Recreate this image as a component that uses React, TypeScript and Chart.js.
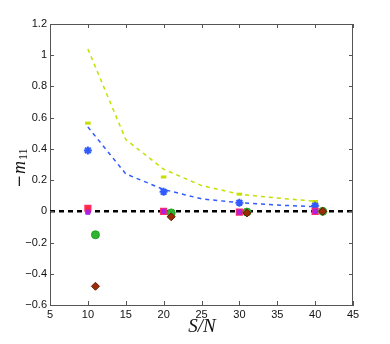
import React, { useEffect, useRef } from "react";
import { Chart, registerables } from "chart.js";

Chart.register(...registerables);

const lineX = [10, 15, 20, 25, 30, 35, 40];
const upperLine = [1.04, 0.46, 0.27, 0.165, 0.11, 0.085, 0.065];
const blueLine = [0.54, 0.24, 0.14, 0.08, 0.055, 0.04, 0.03];

const markX = [10, 20, 30, 40];
const markXShift = [11, 21, 31, 41];
const yellowMarks = [0.565, 0.22, 0.11, 0.063];
const blueMarks = [0.39, 0.125, 0.055, 0.035];
const redMarks = [0.02, 0.0, -0.005, 0.0];
const magentaMarks = [-0.005, 0.0, -0.005, 0.0];
const greenMarks = [-0.15, -0.01, -0.005, 0.0];
const diamondMarks = [-0.48, -0.035, -0.01, 0.0];

const zeroX = [5, 45];
const zeroY = [0, 0];

const xTicks = [5, 10, 15, 20, 25, 30, 35, 40, 45];
const yTicks = [-0.6, -0.4, -0.2, 0, 0.2, 0.4, 0.6, 0.8, 1, 1.2];

const pts = (xs: number[], ys: number[]) => xs.map((x, i) => ({ x, y: ys[i] }));

const boxPlugin = {
  id: "boxTicks",
  afterDraw(chart: any) {
    const { ctx, chartArea: a, scales } = chart;
    ctx.save();
    ctx.strokeStyle = "#555";
    ctx.lineWidth = 1;
    ctx.beginPath();
    ctx.moveTo(a.left, a.top + 0.5);
    ctx.lineTo(a.right, a.top + 0.5);
    ctx.moveTo(a.right - 0.5, a.top);
    ctx.lineTo(a.right - 0.5, a.bottom);
    const tl = 4;
    xTicks.forEach((v) => {
      const px = Math.round(scales.x.getPixelForValue(v)) + 0.5;
      ctx.moveTo(px, a.bottom);
      ctx.lineTo(px, a.bottom - tl);
      ctx.moveTo(px, a.top);
      ctx.lineTo(px, a.top + tl);
    });
    yTicks.forEach((v) => {
      const py = Math.round(scales.y.getPixelForValue(v)) + 0.5;
      ctx.moveTo(a.left, py);
      ctx.lineTo(a.left + tl, py);
      ctx.moveTo(a.right, py);
      ctx.lineTo(a.right - tl, py);
    });
    ctx.stroke();

    // y label: −m11
    ctx.fillStyle = "#111";
    ctx.translate(20, 168);
    ctx.rotate(-Math.PI / 2);
    ctx.textBaseline = "middle";
    ctx.textAlign = "left";
    const f1 = "15px 'DejaVu Sans'";
    const f2 = "italic 18px 'Liberation Serif'";
    const f3 = "12px 'Liberation Serif'";
    ctx.font = f1;
    const w1 = ctx.measureText("\u2212").width;
    ctx.font = f2;
    const w2 = ctx.measureText("m").width;
    ctx.font = f3;
    const w3 = ctx.measureText("11").width;
    let x0 = -(w1 + w2 + w3 + 2) / 2;
    ctx.font = f1;
    ctx.fillText("\u2212", x0, 0);
    x0 += w1 + 1;
    ctx.font = f2;
    ctx.fillText("m", x0, 0);
    x0 += w2 + 1;
    ctx.font = f3;
    ctx.fillText("11", x0, 4);
    ctx.restore();

    // x label
    ctx.save();
    ctx.fillStyle = "#111";
    ctx.font = "italic 19px 'Liberation Serif'";
    ctx.textAlign = "center";
    ctx.textBaseline = "middle";
    ctx.fillText("S/N", 202, 327);
    ctx.restore();
  },
};

export default function App() {
  const ref = useRef<HTMLCanvasElement | null>(null);
  useEffect(() => {
    document.body.style.margin = "0";
    const yellow = "#c4e000";
    const blue = "#2f5bff";
    const chart = new Chart(ref.current as HTMLCanvasElement, {
      type: "scatter",
      data: {
        datasets: [
          {
            label: "diamond",
            data: pts(markXShift, diamondMarks),
            pointStyle: "rectRot",
            pointRadius: 4,
            backgroundColor: "#9a2a08",
            borderColor: "#6a1a00",
            borderWidth: 1,
          },
          {
            label: "green",
            data: pts(markXShift, greenMarks),
            pointStyle: "circle",
            pointRadius: 4,
            backgroundColor: "#2fb52f",
            borderColor: "#20a020",
            borderWidth: 1,
          },
          {
            label: "magenta",
            data: pts(markX, magentaMarks),
            pointStyle: "rect",
            pointRadius: 3,
            backgroundColor: "#b020e0",
            borderColor: "#b020e0",
            borderWidth: 1,
          },
          {
            label: "red",
            data: pts(markX, redMarks),
            pointStyle: "rect",
            pointRadius: 4,
            backgroundColor: "#ff2a2a",
            borderColor: "#ff2a6a",
            borderWidth: 1.5,
          },
          {
            label: "blueStar",
            data: pts(markX, blueMarks),
            pointStyle: "star",
            pointRadius: 4,
            backgroundColor: blue,
            borderColor: blue,
            borderWidth: 2,
          },
          {
            label: "yellowMark",
            data: pts(markX, yellowMarks),
            pointStyle: "line",
            pointRadius: 2.8,
            backgroundColor: yellow,
            borderColor: yellow,
            borderWidth: 3,
          },
          {
            label: "blueLine",
            data: pts(lineX, blueLine),
            showLine: true,
            pointRadius: 0,
            borderColor: blue,
            borderWidth: 1.5,
            borderDash: [4, 4],
            fill: false,
          },
          {
            label: "upperLine",
            data: pts(lineX, upperLine),
            showLine: true,
            pointRadius: 0,
            borderColor: yellow,
            borderWidth: 1.5,
            borderDash: [4, 4],
            fill: false,
          },
          {
            label: "zero",
            data: pts(zeroX, zeroY),
            showLine: true,
            pointRadius: 0,
            borderColor: "#000",
            borderWidth: 2.5,
            borderDash: [5, 4],
            fill: false,
          },
        ],
      },
      options: {
        responsive: false,
        animation: false,
        layout: { padding: { top: 24, right: 37, left: 0, bottom: 0 } },
        plugins: { legend: { display: false }, tooltip: { enabled: false } },
        scales: {
          x: {
            type: "linear",
            min: 5,
            max: 45,
            afterFit: (s: any) => {
              s.height = 39;
            },
            afterBuildTicks: (s: any) => {
              s.ticks = xTicks.map((v) => ({ value: v }));
            },
            grid: { display: false, drawTicks: false },
            border: { display: true, color: "#555", width: 1 },
            ticks: {
              color: "#111",
              font: { family: "'Liberation Sans'", size: 11 },
              padding: 3,
              maxRotation: 0,
              callback: (v: any) => String(v),
            },
          },
          y: {
            type: "linear",
            min: -0.6,
            max: 1.2,
            afterFit: (s: any) => {
              s.width = 50;
            },
            afterBuildTicks: (s: any) => {
              s.ticks = yTicks.map((v) => ({ value: v }));
            },
            grid: { display: false, drawTicks: false },
            border: { display: true, color: "#555", width: 1 },
            ticks: {
              color: "#111",
              font: { family: "'Liberation Sans'", size: 11 },
              padding: 3,
              callback: (v: any) => {
                const r = Math.round(Number(v) * 10) / 10;
                return r < 0 ? "\u2212" + String(-r) : String(r);
              },
            },
          },
        },
      },
      plugins: [boxPlugin],
    });
    return () => chart.destroy();
  }, []);
  return (
    <div style={{ width: 390, height: 344, background: "#fff" }}>
      <canvas ref={ref} width={390} height={344} />
    </div>
  );
}
